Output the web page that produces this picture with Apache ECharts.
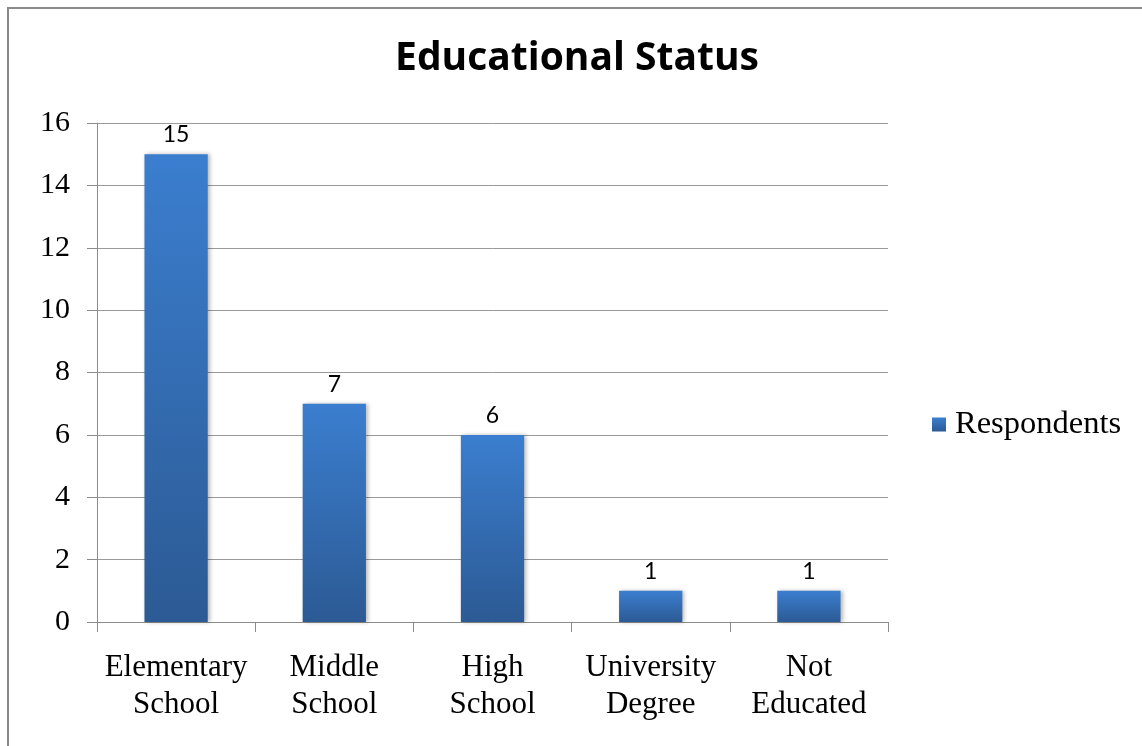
<!DOCTYPE html>
<html>
<head>
<meta charset="utf-8">
<script src="https://cdn.jsdelivr.net/npm/echarts@6/dist/echarts.min.js"></script>
<style>
  html, body { margin: 0; padding: 0; background: #ffffff; }
  #chart { width: 1142px; height: 746px; }
</style>
</head>
<body>
<div id="chart"></div>
<script>
// Education levels of survey respondents
const categories = ['Elementary\nSchool', 'Middle\nSchool', 'High\nSchool', 'University\nDegree', 'Not\nEducated'];
const respondents = [15, 7, 6, 1, 1];
const yTicks = { min: 0, max: 16, interval: 2 };

const serif = '"Liberation Serif", "Times New Roman", serif';
const sans = 'Lato, "Open Sans", sans-serif';

const chart = echarts.init(document.getElementById('chart'), null, { renderer: 'canvas' });

chart.setOption({
  backgroundColor: '#ffffff',
  animation: false,
  title: {
    text: 'Educational Status',
    left: 577,
    textAlign: 'center',
    top: 39,
    padding: 0,
    textStyle: { fontFamily: '"Open Sans", sans-serif', fontWeight: 'bold', fontSize: 39, color: '#000000' }
  },
  graphic: [{
    type: 'rect',
    shape: { x: 8, y: 8, width: 1200, height: 800 },
    style: { fill: 'none', stroke: '#8a8a8a', lineWidth: 2 },
    silent: true
  }],
  legend: {
    left: 932,
    top: 408,
    padding: 0,
    icon: 'rect',
    itemWidth: 14,
    itemHeight: 14,
    itemGap: 10,
    textStyle: { fontFamily: serif, fontSize: 32.5, color: '#000000', lineHeight: 32, padding: [0, 0, 0, 4] },
    data: ['Respondents']
  },
  grid: { left: 97, right: 254, top: 123, bottom: 124, containLabel: false },
  xAxis: {
    type: 'category',
    data: categories,
    boundaryGap: true,
    axisLine: { lineStyle: { color: '#8c8c8c', width: 1 } },
    axisTick: { show: true, length: 10, lineStyle: { color: '#8c8c8c' } },
    axisLabel: { fontFamily: serif, fontSize: 31, lineHeight: 37, color: '#000000', margin: 27, interval: 0 },
    splitLine: { show: false }
  },
  yAxis: {
    type: 'value',
    min: yTicks.min,
    max: yTicks.max,
    interval: yTicks.interval,
    axisLine: { show: true, lineStyle: { color: '#8c8c8c', width: 1 } },
    axisTick: { show: true, length: 10, lineStyle: { color: '#8c8c8c' } },
    axisLabel: { fontFamily: serif, fontSize: 30, color: '#000000', margin: 27 },
    splitLine: { show: true, lineStyle: { color: '#9a9a9a', width: 1 } }
  },
  series: [{
    name: 'Respondents',
    type: 'bar',
    data: respondents,
    barWidth: '40%',
    itemStyle: {
      color: new echarts.graphic.LinearGradient(0, 0, 0, 1, [
        { offset: 0, color: '#3b7ecf' },
        { offset: 1, color: '#2c5a94' }
      ]),
      shadowColor: 'rgba(0,0,0,0.28)',
      shadowBlur: 4,
      shadowOffsetX: 2,
      shadowOffsetY: 0
    },
    label: {
      show: true,
      position: 'top',
      distance: 8,
      fontFamily: sans,
      fontSize: 23,
      color: '#000000'
    }
  }]
});
</script>
</body>
</html>
